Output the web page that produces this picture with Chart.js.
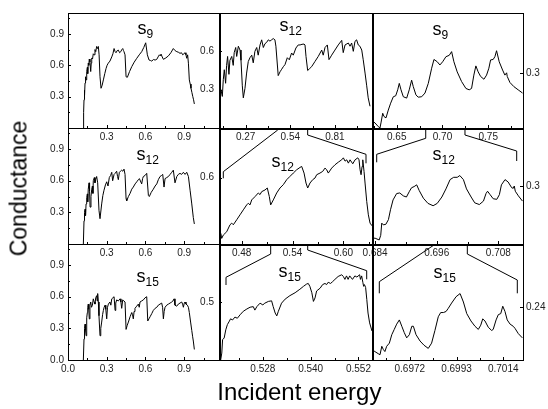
<!DOCTYPE html>
<html><head><meta charset="utf-8">
<script src="https://cdn.jsdelivr.net/npm/chart.js@4/dist/chart.umd.min.js"></script>
<style>
html,body{margin:0;padding:0;background:#fff;}
#wrap{position:relative;width:548px;height:409px;overflow:hidden;font-family:"Liberation Sans",Arial,sans-serif;background:#fff;}
canvas{position:absolute;left:0;top:0;}
.lab{position:absolute;font-size:18px;line-height:18px;color:#000;white-space:nowrap;}
.lab sub{font-size:12px;vertical-align:-4px;line-height:0;}
.ttl{position:absolute;color:#000;white-space:nowrap;text-align:center;}
</style></head><body><div id="wrap">
<canvas id="cL1" width="548" height="409"></canvas>
<canvas id="cM1" width="548" height="409"></canvas>
<canvas id="cR1" width="548" height="409"></canvas>
<canvas id="cL2" width="548" height="409"></canvas>
<canvas id="cM2" width="548" height="409"></canvas>
<canvas id="cR2" width="548" height="409"></canvas>
<canvas id="cL3" width="548" height="409"></canvas>
<canvas id="cM3" width="548" height="409"></canvas>
<canvas id="cR3" width="548" height="409"></canvas>
<div class="lab" style="left:137.5px;top:19.3px">s<sub>9</sub></div>
<div class="lab" style="left:279.5px;top:15.8px">s<sub>12</sub></div>
<div class="lab" style="left:432.5px;top:19.8px">s<sub>9</sub></div>
<div class="lab" style="left:136.5px;top:144.8px">s<sub>12</sub></div>
<div class="lab" style="left:271.5px;top:151.8px">s<sub>12</sub></div>
<div class="lab" style="left:432.5px;top:144.8px">s<sub>12</sub></div>
<div class="lab" style="left:136.5px;top:266.8px">s<sub>15</sub></div>
<div class="lab" style="left:278.5px;top:261.8px">s<sub>15</sub></div>
<div class="lab" style="left:433.5px;top:262.8px">s<sub>15</sub></div>
<div class="ttl" style="left:199.4px;top:380px;width:200px;font-size:24px;line-height:24px;">Incident energy</div>
<div class="ttl" style="left:-80.7px;top:177px;width:200px;height:23px;font-size:23px;line-height:23px;transform:rotate(-90deg);transform-origin:50% 50%;">Conductance</div>
</div>
<script>
// ---------------- data (energy, conductance) ----------------
const s9Full = [[0.119,0.00],[0.121,0.15],[0.124,0.27],[0.127,0.36],[0.129,0.31],[0.132,0.43],[0.136,0.49],[0.140,0.46],[0.145,0.54],[0.150,0.58],[0.153,0.52],[0.157,0.62],[0.161,0.60],[0.165,0.66],[0.170,0.63],[0.176,0.54],[0.180,0.62],[0.184,0.67],[0.190,0.66],[0.196,0.71],[0.202,0.70],[0.209,0.75],[0.215,0.73],[0.222,0.78],[0.228,0.76],[0.235,0.78],[0.241,0.70],[0.248,0.49],[0.256,0.38],[0.265,0.41],[0.274,0.46],[0.285,0.52],[0.295,0.57],[0.303,0.60],[0.312,0.62],[0.325,0.64],[0.339,0.68],[0.348,0.71],[0.357,0.76],[0.365,0.73],[0.372,0.72],[0.381,0.74],[0.390,0.745],[0.400,0.72],[0.409,0.73],[0.417,0.75],[0.424,0.76],[0.430,0.74],[0.434,0.73],[0.442,0.70],[0.450,0.49],[0.460,0.485],[0.477,0.54],[0.494,0.587],[0.513,0.63],[0.533,0.667],[0.552,0.70],[0.571,0.73],[0.587,0.77],[0.602,0.815],[0.615,0.70],[0.628,0.65],[0.640,0.645],[0.649,0.64],[0.662,0.655],[0.675,0.65],[0.688,0.657],[0.698,0.68],[0.708,0.70],[0.715,0.69],[0.721,0.707],[0.730,0.68],[0.739,0.657],[0.758,0.67],[0.778,0.69],[0.797,0.72],[0.816,0.76],[0.830,0.74],[0.843,0.73],[0.855,0.725],[0.868,0.714],[0.879,0.72],[0.889,0.70],[0.898,0.71],[0.907,0.72],[0.914,0.70],[0.920,0.667],[0.927,0.70],[0.933,0.62],[0.940,0.46],[0.947,0.42],[0.953,0.38],[0.960,0.34],[0.967,0.30],[0.973,0.27],[0.979,0.23]];

const s12Full = [[0.119,0.00],[0.124,0.22],[0.128,0.30],[0.132,0.33],[0.136,0.27],[0.140,0.38],[0.145,0.44],[0.150,0.475],[0.153,0.40],[0.157,0.52],[0.163,0.58],[0.167,0.50],[0.171,0.35],[0.178,0.45],[0.184,0.52],[0.189,0.55],[0.193,0.48],[0.196,0.60],[0.204,0.63],[0.209,0.58],[0.214,0.61],[0.222,0.64],[0.230,0.58],[0.240,0.32],[0.248,0.24],[0.261,0.38],[0.270,0.46],[0.279,0.51],[0.290,0.56],[0.300,0.59],[0.310,0.55],[0.320,0.63],[0.330,0.65],[0.339,0.68],[0.346,0.60],[0.357,0.66],[0.365,0.67],[0.377,0.69],[0.384,0.64],[0.390,0.61],[0.398,0.68],[0.406,0.69],[0.416,0.70],[0.425,0.69],[0.434,0.71],[0.442,0.66],[0.450,0.43],[0.455,0.41],[0.468,0.45],[0.481,0.48],[0.494,0.52],[0.506,0.54],[0.520,0.57],[0.533,0.59],[0.545,0.61],[0.553,0.62],[0.571,0.57],[0.578,0.62],[0.584,0.64],[0.597,0.65],[0.610,0.67],[0.623,0.46],[0.630,0.45],[0.645,0.49],[0.661,0.52],[0.675,0.55],[0.688,0.57],[0.700,0.61],[0.713,0.64],[0.725,0.65],[0.734,0.66],[0.744,0.54],[0.752,0.62],[0.765,0.63],[0.778,0.64],[0.791,0.66],[0.804,0.68],[0.816,0.70],[0.829,0.58],[0.843,0.64],[0.855,0.66],[0.868,0.67],[0.880,0.66],[0.894,0.68],[0.907,0.66],[0.920,0.68],[0.933,0.64],[0.946,0.51],[0.959,0.38],[0.971,0.25],[0.979,0.19]];

const s15Full = [[0.119,0.00],[0.124,0.20],[0.128,0.30],[0.132,0.34],[0.136,0.28],[0.140,0.23],[0.145,0.40],[0.150,0.45],[0.153,0.50],[0.157,0.53],[0.161,0.48],[0.165,0.39],[0.170,0.52],[0.176,0.55],[0.182,0.50],[0.189,0.52],[0.196,0.58],[0.203,0.55],[0.209,0.53],[0.215,0.59],[0.222,0.61],[0.226,0.56],[0.230,0.63],[0.235,0.55],[0.240,0.42],[0.248,0.23],[0.254,0.30],[0.261,0.36],[0.268,0.43],[0.274,0.47],[0.280,0.50],[0.287,0.52],[0.293,0.48],[0.300,0.39],[0.306,0.50],[0.313,0.53],[0.325,0.55],[0.332,0.52],[0.339,0.58],[0.348,0.59],[0.357,0.60],[0.365,0.47],[0.370,0.54],[0.377,0.57],[0.390,0.56],[0.403,0.58],[0.410,0.55],[0.416,0.49],[0.424,0.57],[0.433,0.56],[0.442,0.55],[0.450,0.29],[0.459,0.33],[0.468,0.36],[0.481,0.41],[0.494,0.45],[0.500,0.43],[0.506,0.39],[0.512,0.46],[0.519,0.49],[0.532,0.51],[0.545,0.53],[0.552,0.50],[0.558,0.55],[0.571,0.56],[0.584,0.57],[0.597,0.59],[0.610,0.60],[0.618,0.37],[0.627,0.39],[0.636,0.41],[0.649,0.44],[0.661,0.47],[0.675,0.49],[0.688,0.50],[0.700,0.52],[0.713,0.53],[0.726,0.54],[0.733,0.50],[0.739,0.39],[0.745,0.46],[0.752,0.50],[0.765,0.52],[0.778,0.53],[0.791,0.54],[0.804,0.55],[0.813,0.56],[0.822,0.58],[0.829,0.52],[0.842,0.51],[0.855,0.53],[0.868,0.54],[0.881,0.55],[0.888,0.53],[0.894,0.50],[0.901,0.54],[0.907,0.55],[0.914,0.53],[0.925,0.52],[0.933,0.50],[0.940,0.45],[0.950,0.36],[0.959,0.28],[0.966,0.22],[0.971,0.18],[0.979,0.10]];

const s12Wide = [[0.111,0.00],[0.115,0.22],[0.121,0.30],[0.129,0.247],[0.135,0.38],[0.141,0.456],[0.149,0.35],[0.155,0.49],[0.161,0.56],[0.169,0.42],[0.175,0.53],[0.186,0.56],[0.195,0.49],[0.201,0.59],[0.210,0.63],[0.216,0.56],[0.226,0.64],[0.236,0.61],[0.242,0.53],[0.250,0.33],[0.256,0.236],[0.266,0.31],[0.276,0.43],[0.286,0.52],[0.296,0.55],[0.307,0.57],[0.316,0.51],[0.326,0.60],[0.337,0.63],[0.346,0.57],[0.357,0.65],[0.367,0.69],[0.377,0.63],[0.387,0.66],[0.397,0.67],[0.407,0.69],[0.417,0.68],[0.427,0.69],[0.437,0.70],[0.447,0.69],[0.453,0.64],[0.467,0.41],[0.478,0.44],[0.488,0.46],[0.498,0.48],[0.508,0.496],[0.522,0.55],[0.534,0.534],[0.548,0.587],[0.558,0.57],[0.574,0.626],[0.588,0.65],[0.599,0.65],[0.611,0.655],[0.623,0.657],[0.629,0.65],[0.635,0.56],[0.645,0.45],[0.657,0.465],[0.669,0.48],[0.689,0.52],[0.709,0.56],[0.730,0.61],[0.739,0.57],[0.750,0.63],[0.764,0.65],[0.774,0.535],[0.790,0.57],[0.810,0.61],[0.830,0.65],[0.851,0.686],[0.860,0.59],[0.871,0.65],[0.891,0.665],[0.901,0.64],[0.911,0.665],[0.921,0.60],[0.931,0.678],[0.941,0.69],[0.951,0.65],[0.961,0.64],[0.972,0.61],[0.981,0.534],[0.992,0.43],[1.002,0.33],[1.011,0.236],[1.022,0.17]];

const s12Mid = [[0.4544,0.417],[0.4552,0.432],[0.4564,0.417],[0.4583,0.427],[0.4623,0.437],[0.4662,0.458],[0.4682,0.463],[0.4701,0.458],[0.4741,0.473],[0.4780,0.488],[0.4819,0.503],[0.4859,0.518],[0.4878,0.523],[0.4898,0.518],[0.4918,0.533],[0.4957,0.543],[0.4996,0.554],[0.5016,0.549],[0.5036,0.558],[0.5075,0.563],[0.5102,0.569],[0.5126,0.543],[0.5142,0.518],[0.5173,0.533],[0.5213,0.554],[0.5252,0.569],[0.5291,0.579],[0.5331,0.594],[0.5370,0.604],[0.5409,0.614],[0.5449,0.624],[0.5488,0.631],[0.5508,0.634],[0.5536,0.614],[0.5559,0.584],[0.5579,0.569],[0.5606,0.584],[0.5638,0.594],[0.5665,0.599],[0.5685,0.609],[0.5724,0.614],[0.5756,0.619],[0.5783,0.629],[0.5803,0.624],[0.5822,0.614],[0.5862,0.629],[0.5901,0.639],[0.5941,0.647],[0.5980,0.654],[0.6000,0.660],[0.6020,0.650],[0.6040,0.654],[0.6059,0.644],[0.6079,0.654],[0.6111,0.642],[0.6138,0.654],[0.6170,0.660],[0.6185,0.654],[0.6197,0.624],[0.6209,0.609],[0.6221,0.634],[0.6229,0.654],[0.6244,0.619],[0.6256,0.584],[0.6276,0.528],[0.6295,0.488],[0.6315,0.463],[0.6338,0.455]];

const s15Mid = [[0.5173,0.395],[0.5177,0.412],[0.5179,0.435],[0.5183,0.438],[0.5187,0.452],[0.5191,0.461],[0.5196,0.467],[0.5199,0.471],[0.5204,0.469],[0.5210,0.474],[0.5216,0.472],[0.5223,0.478],[0.5231,0.484],[0.5240,0.488],[0.5248,0.491],[0.5256,0.492],[0.5260,0.486],[0.5265,0.492],[0.5273,0.498],[0.5280,0.495],[0.5285,0.498],[0.5294,0.501],[0.5302,0.502],[0.5306,0.492],[0.5311,0.481],[0.5315,0.476],[0.5319,0.484],[0.5327,0.498],[0.5336,0.505],[0.5348,0.511],[0.5361,0.516],[0.5373,0.522],[0.5382,0.527],[0.5390,0.531],[0.5394,0.532],[0.5398,0.527],[0.5403,0.516],[0.5407,0.501],[0.5411,0.507],[0.5415,0.519],[0.5424,0.524],[0.5430,0.530],[0.5436,0.532],[0.5440,0.530],[0.5444,0.534],[0.5450,0.532],[0.5455,0.535],[0.5461,0.539],[0.5469,0.544],[0.5478,0.547],[0.5482,0.544],[0.5486,0.539],[0.5490,0.545],[0.5494,0.539],[0.5498,0.545],[0.5505,0.539],[0.5511,0.545],[0.5516,0.543],[0.5523,0.547],[0.5525,0.539],[0.5528,0.545],[0.5531,0.534],[0.5533,0.527],[0.5535,0.530],[0.5538,0.525],[0.5541,0.504],[0.5544,0.481],[0.5548,0.464],[0.5554,0.450]];

const s9Zoom = [[0.6227,0.196],[0.6263,0.191],[0.6299,0.183],[0.6317,0.180],[0.6328,0.191],[0.6347,0.212],[0.6361,0.205],[0.6383,0.202],[0.6408,0.219],[0.6434,0.234],[0.6463,0.248],[0.6489,0.250],[0.6511,0.263],[0.6528,0.277],[0.6547,0.263],[0.6572,0.248],[0.6609,0.245],[0.6637,0.263],[0.6663,0.284],[0.6681,0.270],[0.6710,0.252],[0.6735,0.247],[0.6773,0.248],[0.6809,0.256],[0.6845,0.277],[0.6882,0.310],[0.6907,0.329],[0.6943,0.324],[0.6972,0.317],[0.7002,0.324],[0.7038,0.335],[0.7074,0.338],[0.7100,0.346],[0.7125,0.324],[0.7161,0.302],[0.7209,0.281],[0.7256,0.266],[0.7292,0.263],[0.7318,0.266],[0.7343,0.295],[0.7365,0.315],[0.7390,0.302],[0.7417,0.292],[0.7453,0.286],[0.7482,0.295],[0.7507,0.310],[0.7526,0.328],[0.7554,0.329],[0.7573,0.335],[0.7591,0.348],[0.7620,0.324],[0.7657,0.306],[0.7682,0.295],[0.7701,0.300],[0.7708,0.292],[0.7737,0.279],[0.7780,0.270],[0.7827,0.263],[0.7875,0.256]];

const s12Zoom = [[0.6833,0.227],[0.6835,0.210],[0.6840,0.210],[0.6848,0.207],[0.6851,0.215],[0.6853,0.236],[0.6856,0.233],[0.6861,0.234],[0.6866,0.242],[0.6870,0.259],[0.6875,0.276],[0.6882,0.287],[0.6888,0.288],[0.6895,0.283],[0.6901,0.281],[0.6907,0.291],[0.6911,0.297],[0.6916,0.299],[0.6921,0.302],[0.6926,0.292],[0.6934,0.279],[0.6943,0.270],[0.6953,0.266],[0.6961,0.270],[0.6970,0.281],[0.6978,0.295],[0.6986,0.311],[0.6993,0.315],[0.7000,0.315],[0.7005,0.318],[0.7012,0.311],[0.7018,0.295],[0.7027,0.281],[0.7034,0.271],[0.7043,0.268],[0.7051,0.274],[0.7056,0.287],[0.7059,0.291],[0.7064,0.285],[0.7070,0.278],[0.7077,0.277],[0.7082,0.285],[0.7086,0.302],[0.7093,0.311],[0.7099,0.307],[0.7106,0.297],[0.7109,0.296],[0.7111,0.300],[0.7113,0.291],[0.7119,0.283],[0.7127,0.274]];

const s15Zoom = [[0.69549,0.200],[0.69563,0.198],[0.69578,0.196],[0.69586,0.195],[0.69594,0.203],[0.69601,0.200],[0.69608,0.198],[0.69616,0.203],[0.69628,0.206],[0.69639,0.214],[0.69650,0.219],[0.69661,0.224],[0.69673,0.228],[0.69684,0.222],[0.69695,0.216],[0.69706,0.211],[0.69718,0.214],[0.69729,0.222],[0.69736,0.222],[0.69748,0.214],[0.69766,0.208],[0.69784,0.204],[0.69803,0.201],[0.69818,0.206],[0.69833,0.218],[0.69848,0.231],[0.69859,0.235],[0.69871,0.235],[0.69883,0.236],[0.69893,0.239],[0.69908,0.244],[0.69928,0.250],[0.69946,0.253],[0.69961,0.245],[0.69976,0.234],[0.69995,0.227],[0.70013,0.222],[0.70028,0.219],[0.70039,0.223],[0.70048,0.229],[0.70058,0.227],[0.70073,0.221],[0.70088,0.218],[0.70095,0.219],[0.70108,0.228],[0.70118,0.233],[0.70129,0.234],[0.70138,0.241],[0.70148,0.236],[0.70158,0.228],[0.70171,0.224],[0.70185,0.222],[0.70193,0.220],[0.70208,0.215],[0.70226,0.211]];

// ---------------- axis extents ----------------
const leftXRange = [0, 1.17],        leftYRange = [0, 1.1];
const midAXRange = [0.109, 1.034],   midAYRange = [0, 0.9];
const midBXRange = [0.4532, 0.6338], midBYRange = [0.4, 0.75];
const midCXRange = [0.517, 0.5554],  midCYRange = [0.4, 0.6];
const zoomAXRange = [0.623, 0.788],  zoomAYRange = [0.18, 0.43];
const zoomBXRange = [0.6834, 0.7128], zoomBYRange = [0.2, 0.4];
const zoomCXRange = [0.6955, 0.70229], zoomCYRange = [0.19, 0.30];

// ---------------- tick labels ----------------
const leftXLabels = ['0.3','0.6','0.9'];
const leftXLabelsBottom = ['0.0','0.3','0.6','0.9'];
const leftYLabels = ['0.3','0.6','0.9'];
const leftYLabelsBottom = ['0.0','0.3','0.6','0.9'];
const midAXLabels = ['0.27','0.54','0.81'],   midAYLabels = ['0.3','0.6'];
const midBXLabels = ['0.48','0.54','0.60'],   midBYLabels = ['0.6'];
const midCXLabels = ['0.528','0.540','0.552'], midCYLabels = ['0.5'];
const zoomAXLabels = ['0.65','0.70','0.75'],  zoomAYLabels = ['0.3'];
const zoomBXLabels = ['0.684','0.696','0.708'], zoomBYLabels = ['0.3'];
const zoomCXLabels = ['0.6972','0.6993','0.7014'], zoomCYLabels = ['0.24'];

// energy windows marked by the zoom brackets (in the upper panel's units)
const bracketMidB = [0.464, 0.645];
const bracketMidC = [0.5142, 0.5579];
const bracketZoomB = [0.6817, 0.7246];
const bracketZoomC = [0.69547, 0.70196];

// ---------------- layout ----------------
const colEdges = [68, 219, 372, 523];
const rowEdges = [13, 128, 244, 360];
const W = 548, H = 409;
const AXW = 40, AXH = 20;

Chart.defaults.font.family = "'Liberation Sans', Arial, sans-serif";
Chart.defaults.font.size = 10;
Chart.defaults.color = '#222';

const charts = {};

const framePlugin = {
  id: 'frame',
  afterDraw(chart, args, o) {
    const ctx = chart.ctx, A = chart.chartArea;
    const xs = chart.scales.x, ys = chart.scales.y;
    ctx.save();
    ctx.strokeStyle = '#000';
    ctx.lineWidth = 1;
    const seg = (x1, y1, x2, y2) => { ctx.beginPath(); ctx.moveTo(x1, y1); ctx.lineTo(x2, y2); ctx.stroke(); };
    const marks = (scale, vals, fn) => {
      const step = vals.length > 1 ? vals[1] - vals[0] : 0;
      const list = [];
      if (step > 0) {
        for (let k = -30; k <= 30; k++) { const v = vals[0] + k * step; list.push([v, 3]); list.push([v + step / 2, 2]); }
      } else vals.forEach(v => list.push([v, 3]));
      list.forEach(([v, len]) => {
        const eps = (scale.max - scale.min) * 1e-3;
        if (v <= scale.min + eps || v >= scale.max - eps) return;
        fn(Math.round(scale.getPixelForValue(v)) + 0.5, len);
      });
    };
    marks(xs, o.xTicks, (p, len) => seg(p, A.bottom, p, A.bottom - len));
    if (o.ySide === 'right') marks(ys, o.yTicks, (p, len) => seg(A.right, p, A.right - len, p));
    else marks(ys, o.yTicks, (p, len) => seg(A.left, p, A.left + len, p));
    ctx.strokeRect(A.left + 0.5, A.top + 0.5, A.right - A.left, A.bottom - A.top);
    ctx.lineWidth = 2;
    if (o.thickLeft) seg(A.left + 1, A.top, A.left + 1, A.bottom + 1);
    if (o.thickTop) seg(A.left, A.top + 1, A.right + 1, A.top + 1);
    ctx.lineWidth = 1;
    if (o.bracket && charts[o.bracket.upper]) {
      const up = charts[o.bracket.upper];
      const ux = up.scales.x, y0 = up.chartArea.bottom;
      const g = o.bracket.geom;
      const xl = ux.getPixelForValue(o.bracket.span[0]);
      const xr = ux.getPixelForValue(o.bracket.span[1]);
      ctx.beginPath();
      ctx.moveTo(xl, y0); ctx.lineTo(xl, y0 + g[0]);
      ctx.lineTo(A.left + g[1], A.top + g[2]); ctx.lineTo(A.left + g[1], A.top + g[3]);
      ctx.stroke();
      ctx.beginPath();
      ctx.moveTo(xr, y0); ctx.lineTo(xr, y0 + g[4]);
      ctx.lineTo(A.right - g[5], A.top + g[6]); ctx.lineTo(A.right - g[5], A.top + g[7]);
      ctx.stroke();
    }
    ctx.restore();
  }
};

function makePanel(p) {
  const xVals = p.xl.map(Number), yVals = p.yl.map(Number);
  const left = colEdges[p.col], right = colEdges[p.col + 1];
  const top = rowEdges[p.row], bottom = rowEdges[p.row + 1];
  const yW = p.ySide === 'left' ? AXW : W - right;
  const padL = p.ySide === 'left' ? left - yW : left;
  const padR = p.ySide === 'right' ? 0 : W - right;
  const cfg = {
    type: 'line',
    data: { datasets: [{ data: p.data, borderColor: '#000', borderWidth: 1, pointRadius: 0, tension: 0, fill: false }] },
    options: {
      responsive: false, animation: false, events: [],
      layout: { padding: { left: padL, top: top, right: padR, bottom: H - bottom - AXH } },
      plugins: { legend: { display: false }, tooltip: { enabled: false },
        frame: { xTicks: xVals, yTicks: yVals, ySide: p.ySide, thickLeft: p.col > 0, thickTop: p.col > 0 && p.row > 0, bracket: p.bracket || null } },
      scales: {
        x: { type: 'linear', min: p.xr[0], max: p.xr[1],
          grid: { display: false, drawTicks: false, tickLength: 0 }, border: { display: false },
          afterBuildTicks: s => { s.ticks = xVals.map(v => ({ value: v })); },
          afterFit: s => { s.height = AXH; },
          ticks: { autoSkip: false, maxRotation: 0, minRotation: 0, padding: 3, callback: (v, i) => p.xl[i] } },
        y: { type: 'linear', position: p.ySide, min: p.yr[0], max: p.yr[1],
          grid: { display: false, drawTicks: false, tickLength: 0 }, border: { display: false },
          afterBuildTicks: s => { s.ticks = yVals.map(v => ({ value: v })); },
          afterFit: s => { s.width = yW; },
          ticks: { autoSkip: false, padding: p.col === 1 ? 5 : (p.col === 0 ? 4 : 3), callback: (v, i) => p.yl[i] } }
      }
    },
    plugins: [framePlugin]
  };
  charts[p.id] = new Chart(document.getElementById(p.id), cfg);
}

const panels = [
  { id: 'cL1', col: 0, row: 0, data: s9Full,  xr: leftXRange, yr: leftYRange, xl: leftXLabels, yl: leftYLabels, ySide: 'left' },
  { id: 'cM1', col: 1, row: 0, data: s12Wide, xr: midAXRange, yr: midAYRange, xl: midAXLabels, yl: midAYLabels, ySide: 'left' },
  { id: 'cR1', col: 2, row: 0, data: s9Zoom,  xr: zoomAXRange, yr: zoomAYRange, xl: zoomAXLabels, yl: zoomAYLabels, ySide: 'right' },
  { id: 'cL2', col: 0, row: 1, data: s12Full, xr: leftXRange, yr: leftYRange, xl: leftXLabels, yl: leftYLabels, ySide: 'left' },
  { id: 'cM2', col: 1, row: 1, data: s12Mid,  xr: midBXRange, yr: midBYRange, xl: midBXLabels, yl: midBYLabels, ySide: 'left',
    bracket: { upper: 'cM1', span: bracketMidB, geom: [2, 4.3, 43.7, 50.3, 7, 6, 26.3, 35.3] } },
  { id: 'cR2', col: 2, row: 1, data: s12Zoom, xr: zoomBXRange, yr: zoomBYRange, xl: zoomBXLabels, yl: zoomBYLabels, ySide: 'right',
    bracket: { upper: 'cR1', span: bracketZoomB, geom: [10.3, 4.7, 26.3, 34.3, 7, 6.3, 23, 33] } },
  { id: 'cL3', col: 0, row: 2, data: s15Full, xr: leftXRange, yr: leftYRange, xl: leftXLabelsBottom, yl: leftYLabelsBottom, ySide: 'left' },
  { id: 'cM3', col: 1, row: 2, data: s15Mid,  xr: midCXRange, yr: midCYRange, xl: midCXLabels, yl: midCYLabels, ySide: 'left',
    bracket: { upper: 'cM2', span: bracketMidC, geom: [10, 7, 33.3, 41, 6, 5.3, 26.7, 35.3] } },
  { id: 'cR3', col: 2, row: 2, data: s15Zoom, xr: zoomCXRange, yr: zoomCYRange, xl: zoomCXLabels, yl: zoomCYLabels, ySide: 'right',
    bracket: { upper: 'cR2', span: bracketZoomC, geom: [1, 7.3, 37.7, 49.3, 10, 5.7, 36, 49.3] } }
];
panels.forEach(makePanel);
</script>
</body></html>
